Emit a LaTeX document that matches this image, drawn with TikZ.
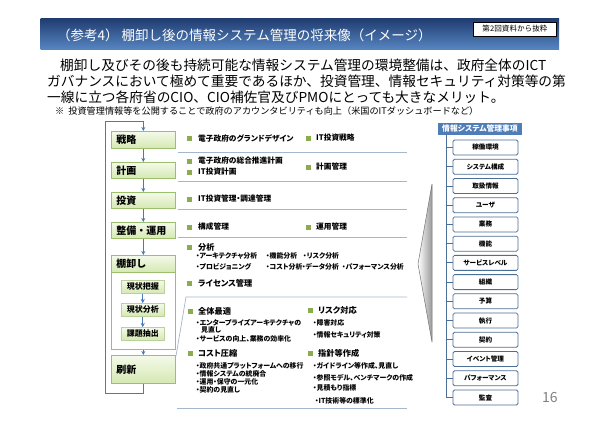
\documentclass[tikz,border=0pt]{standalone}
\usepackage{fontspec}
\setmainfont{Noto Sans CJK JP}
\newfontfamily\pjp[RawFeature=+palt]{Noto Sans CJK JP}
\usetikzlibrary{arrows.meta}
\definecolor{barDark}{HTML}{1F3B6F}
\definecolor{barLight}{HTML}{5684C0}
\definecolor{sepC}{HTML}{A3B8CC}
\definecolor{bulC}{HTML}{8AAC4E}
\definecolor{gBord}{HTML}{9DBF6D}
\definecolor{gTop}{HTML}{F4FAEA}
\definecolor{gBot}{HTML}{D5E8B2}
\definecolor{flowC}{HTML}{4A7AB5}
\definecolor{rBord}{HTML}{4D6E96}
\definecolor{hdrC}{HTML}{4F7DB8}
\newcommand{\fs}[1]{\fontsize{#1}{#1}\selectfont}
\begin{document}
\begin{tikzpicture}[x=1pt,y=-1pt,
  txt/.style={inner sep=0pt,anchor=west},
  para/.style={txt,font=\fs{13.7}},
  hd/.style={txt,font=\pjp\fs{7.7}\bfseries},
  hdb/.style={txt,font=\pjp\fs{8.2}\bfseries},
  sub/.style={txt,font=\pjp\fs{6.9}\bfseries},
  sq/.style={fill=bulC,minimum size=5pt,inner sep=0pt},
  sep/.style={draw=sepC,line width=0.7pt},
  lbox/.style={draw=gBord,top color=gTop,bottom color=gBot,line width=0.7pt,
    minimum width=64pt,text width=54pt,inner xsep=5pt,inner ysep=0pt,align=left,
    anchor=north west,font=\fs{10}\bfseries},
  ibox/.style={draw=gBord!70,top color=gTop,bottom color=gBot,line width=0.5pt,
    minimum width=43pt,minimum height=13pt,inner sep=0pt,anchor=north west,font=\fs{8}\bfseries},
  flow/.style={draw=flowC,line width=1pt,-{Stealth[length=4pt,width=4pt]}},
  rbox/.style={draw=rBord,fill=white,rounded corners=1.5pt,line width=0.8pt,
    minimum width=65pt,minimum height=15pt,inner sep=0pt,font=\pjp\fs{6.6}\bfseries},
  tree/.style={draw=rBord,line width=0.9pt}]
\useasboundingbox (0,0) rectangle (600,424);
\fill[white] (0,0) rectangle (600,424);
% title bar
\shade[top color=barDark,bottom color=barLight] (40.7,18) rectangle (559,49);
\node[txt,text=white,font=\fs{13.5}] (title) at (57,35) {（参考4） 棚卸し後の情報システム管理の将来像（イメージ）};
\node[draw=black,fill=white,line width=0.8pt,minimum width=83pt,minimum height=14pt,inner sep=0pt,font=\fs{7.6}] (src) at (515,29) {第2回資料から抜粋};
% paragraph
\node[para] (p1) at (60,65) {棚卸し及びその後も持続可能な情報システム管理の環境整備は、政府全体のICT};
\node[para] (p2) at (47,81) {ガバナンスにおいて極めて重要であるほか、投資管理、情報セキュリティ対策等の第};
\node[para] (p3) at (47,97) {一線に立つ各府省のCIO、CIO補佐官及びPMOにとっても大きなメリット。};
\node[txt,font=\fs{9.15}] (note) at (55,111) {※\ \ 投資管理情報等を公開することで政府のアカウンタビリティも向上（米国のITダッシュボードなど）};
% left column
\node[lbox,minimum height=17pt] (senryaku) at (111,131) {戦略};
\node[lbox,minimum height=16pt] (keikaku) at (111,162) {計画};
\node[lbox,minimum height=16pt] (toushi) at (111,192) {投資};
\node[lbox,minimum height=16pt] (seibi) at (111,222) {整備・運用};
\node[draw=gBord,fill=white,line width=0.7pt,minimum width=64pt,minimum height=94pt,anchor=north west,inner sep=0pt] (tanacont) at (111,255) {};
\node[lbox,minimum height=17pt] (tana) at (111,255) {棚卸し};
\node[ibox] (genjo1) at (121,280) {現状把握};
\node[ibox] (genjo2) at (121,303) {現状分析};
\node[ibox] (kadai) at (121,327) {課題抽出};
\node[lbox,minimum height=28pt] (koushin) at (111,355) {刷新};
\draw[flow] (senryaku) -- (keikaku);
\draw[flow] (keikaku) -- (toushi);
\draw[flow] (toushi) -- (seibi);
\draw[flow] (seibi) -- (tanacont);
\draw[flow] (genjo1) -- (genjo2);
\draw[flow] (genjo2) -- (kadai);
\draw[flow] (tanacont) -- (koushin);
\coordinate (lb) at (105,393);
\coordinate (lt) at (105,121);
\draw[flow] (koushin.south) |- (lb) -- (lt) -| (senryaku.north);
% middle column
\node[sq] (s1) at (189,138) {}; \node[hd] (t1) at (198,138) {電子政府のグランドデザイン};
\node[sq] (s2) at (308,138) {}; \node[hd] (t2) at (316,138) {IT投資戦略};
\coordinate (a1) at (178,152); \coordinate (b1) at (407,152); \draw[sep] (a1) -- (b1);
\node[sq] (s3) at (189,161) {}; \node[hd] (t3) at (198,161) {電子政府の総合推進計画};
\node[sq] (s4) at (189,172) {}; \node[hd] (t4) at (198,172) {IT投資計画};
\node[sq] (s5) at (308,167) {}; \node[hd] (t5) at (316,167) {計画管理};
\coordinate (a2) at (178,181); \coordinate (b2) at (407,181); \draw[sep] (a2) -- (b2);
\node[sq] (s6) at (189,199) {}; \node[hd] (t6) at (198,199) {IT投資管理・調達管理};
\coordinate (a3) at (178,209); \coordinate (b3) at (407,209); \draw[sep] (a3) -- (b3);
\node[sq] (s7) at (189,227) {}; \node[hd] (t7) at (198,227) {構成管理};
\node[sq] (s8) at (308,227) {}; \node[hd] (t8) at (316,227) {運用管理};
\coordinate (a4) at (178,237); \coordinate (b4) at (407,237); \draw[sep] (a4) -- (b4);
\node[sq] (s9) at (189,247) {}; \node[hdb] (t9) at (198,247) {分析};
\node[sub] (u1) at (196,255.5) {・アーキテクチャ分析};
\node[sub] (u2) at (266,255.5) {・機能分析};
\node[sub] (u3) at (303,255.5) {・リスク分析};
\node[sub] (u4) at (196,266.5) {・プロビジョニング};
\node[sub] (u5) at (266,266.5) {・コスト分析};
\node[sub] (u6) at (302,266.5) {・データ分析};
\node[sub] (u7) at (342,266.5) {・パフォーマンス分析};
\node[sq] (s10) at (189,283) {}; \node[hdb] (t10) at (198,283) {ライセンス管理};
\coordinate (d0) at (176,356); \coordinate (a5) at (186,297); \coordinate (b5) at (407,297);
\draw[sep] (d0) -- (a5) -- (b5);
\node[sq] (s11) at (190,311) {}; \node[hdb] (t11) at (198,311) {全体最適};
\node[sub] (v1) at (196,323) {・エンタープライズアーキテクチャの};
\node[sub] (v2) at (201,330) {見直し};
\node[sub] (v3) at (196,339) {・サービスの向上、業務の効率化};
\node[sq] (s12) at (190,353) {}; \node[hdb] (t12) at (198,353) {コスト圧縮};
\node[sub] (v4) at (196,365.5) {・政府共通プラットフォームへの移行};
\node[sub] (v5) at (196,374) {・情報システムの統廃合};
\node[sub] (v6) at (196,382) {・運用・保守の一元化};
\node[sub] (v7) at (196,390) {・契約の見直し};
\node[sq] (s13) at (310,310) {}; \node[hdb] (t13) at (318,310) {リスク対応};
\node[sub] (w1) at (313,323) {・障害対応};
\node[sub] (w2) at (313,335) {・情報セキュリティ対策};
\node[sq] (s14) at (310,353) {}; \node[hdb] (t14) at (318,353) {指針等作成};
\node[sub] (w3) at (313,365.5) {・ガイドライン等作成、見直し};
\node[sub] (w4) at (313,378) {・参照モデル、ベンチマークの作成};
\node[sub] (w5) at (313,387.5) {・見積もり指標};
\node[sub] (w6) at (315,401) {・IT技術等の標準化};
\coordinate (a6) at (177,408); \coordinate (b6) at (407,408); \draw[sep] (a6) -- (b6);
% big chevron
\shade[left color=white,right color=black!40,draw=black!55,line width=0.5pt] (432,184) -- (418,264) -- (432,342) -- cycle;
% right column
\node[fill=hdrC,text=white,minimum width=84pt,minimum height=12pt,inner sep=0pt,font=\pjp\fs{7.8}\bfseries] (hdr) at (480,129) {情報システム管理事項};
\foreach \t [count=\i] in {稼働環境,システム構成,取扱情報,ユーザ,業務,機能,サービスレベル,組織,予算,執行,契約,イベント管理,パフォーマンス,監査}
  \node[rbox] (r\i) at (485.5,{147.5+(\i-1)*19.23}) {\t};
\coordinate (vtop) at (446,135);
\draw[tree] (vtop) |- (r14.west);
\foreach \i in {1,...,13} \draw[tree] (r\i.west -| vtop) -- (r\i.west);
\node[txt,text=black!50,font=\fs{14}] (pg) at (542,398) {16};
\end{tikzpicture}
\end{document}
